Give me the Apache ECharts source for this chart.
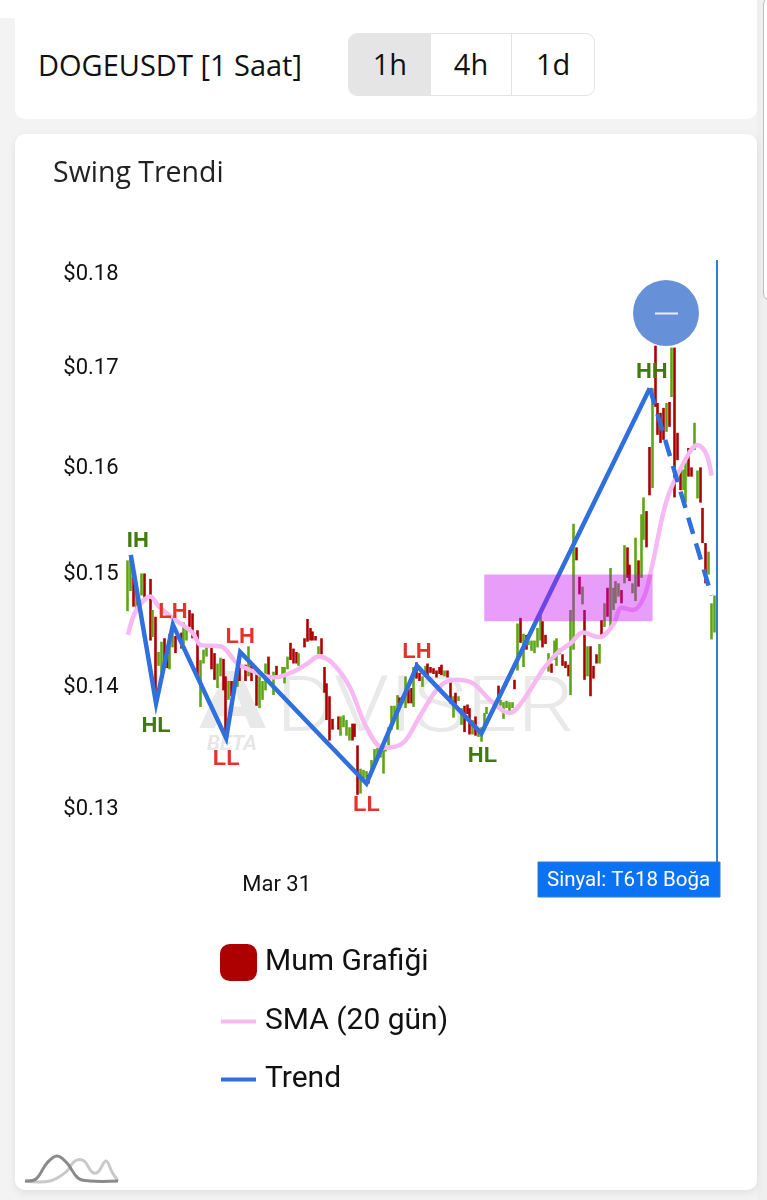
<!DOCTYPE html>
<html><head><meta charset="utf-8">
<script src="https://cdn.jsdelivr.net/npm/echarts@6/dist/echarts.min.js"></script>
<style>
html,body{margin:0;padding:0;width:767px;height:1200px;overflow:hidden;background:#f3f3f3;font-family:Roboto,sans-serif}
.top{position:absolute;left:0;top:0;width:767px;height:18px;background:#fff}
.strip{position:absolute;left:757px;top:0;width:10px;height:1200px;background:#efefef}
.pill{position:absolute;left:763px;top:-4px;width:20px;height:306px;box-sizing:border-box;background:#fff;border:1.5px solid #bdbdbd;border-radius:9px}
.card{position:absolute;left:15px;width:742px;background:#fff;border-radius:10px}
#c1{top:0;height:119px}
#c2{top:134px;height:1056px;box-shadow:0 3px 8px rgba(0,0,0,.08)}
#head{position:absolute;left:38px;top:45px;font:400 29px/40px "Open Sans",sans-serif;color:#111;white-space:nowrap}
#btns{position:absolute;left:348px;top:33px;width:247px;height:63px;box-sizing:border-box;border:1.5px solid #e4e4e4;border-radius:9px;display:flex;overflow:hidden}
#btns div{width:82px;text-align:center;font:400 29px/60px "Open Sans",sans-serif;color:#111;border-right:1.5px solid #e4e4e4;box-sizing:border-box}
#btns div:last-child{border-right:0}
#btns .on{background:#e5e5e5;border-right:0}
#main{position:absolute;left:0;top:0;width:767px;height:1200px}
</style></head><body>
<div class="top"></div><div class="strip"></div><div class="pill"></div>
<div class="card" id="c1"></div><div class="card" id="c2"></div>
<div id="head">DOGEUSDT [1 Saat]</div>
<div id="btns"><div class="on">1h</div><div>4h</div><div>1d</div></div>
<div id="main"></div>
<script>
const titleText='Swing Trendi';
const legendNames=['Mum Grafiği','SMA (20 gün)','Trend'];
const signalText='Sinyal: T618 Boğa';
const yTicks=[0.13,0.14,0.15,0.16,0.17,0.18];
const barCount=212;
const dateLabelIndex=53, dateLabel='Mar 31';
const signalIndex=210;

// [bar index, open, close, low, high]
const candles=[
[0,.1470,.1502,.1464,.1510],[1,.1487,.1508,.1482,.1513],[2,.1492,.1472,.1468,.1495],[3,.1468,.1485,.1464,.1489],
[5,.1482,.1495,.1478,.1498],[6,.1498,.1478,.1476,.1498],[8,.1492,.1450,.1438,.1493],[9,.1445,.1462,.1441,.1465],
[10,.1458,.1395,.1384,.1459],[11,.1417,.1426,.1416,.1428],[12,.1414,.1434,.1410,.1437],[13,.1438,.1420,.1416,.1440],
[14,.1423,.1416,.1414,.1424],[15,.1417,.1440,.1413,.1444],[16,.1435,.1447,.1432,.1449],[17,.1441,.1430,.1427,.1442],
[19,.1444,.1434,.1431,.1445],[20,.1438,.1452,.1435,.1454],[21,.1440,.1447,.1438,.1449],[22,.1464,.1452,.1450,.1465],
[23,.1461,.1443,.1440,.1462],[25,.1446,.1412,.1407,.1447],[26,.1385,.1416,.1381,.1421],[27,.1420,.1428,.1418,.1430],
[28,.1425,.1431,.1424,.1432],[30,.1434,.1416,.1413,.1435],[31,.1426,.1408,.1404,.1427],[32,.1400,.1415,.1397,.1418],
[33,.1410,.1420,.1407,.1423],[34,.1421,.1399,.1395,.1422],[35,.1406,.1365,.1358,.1407],[36,.1390,.1401,.1387,.1403],
[37,.1402,.1392,.1390,.1403],[39,.1399,.1403,.1398,.1404],[40,.1419,.1405,.1403,.1420],[42,.1416,.1405,.1403,.1417],
[43,.1410,.1430,.1407,.1433],[44,.1417,.1405,.1403,.1418],[46,.1409,.1386,.1382,.1410],[47,.1384,.1404,.1380,.1407],
[48,.1390,.1400,.1387,.1403],[49,.1398,.1415,.1395,.1418],[50,.1423,.1407,.1404,.1424],[52,.1394,.1408,.1391,.1411],
[53,.1415,.1408,.1407,.1416],[55,.1410,.1414,.1409,.1415],[56,.1403,.1412,.1401,.1415],[57,.1415,.1422,.1413,.1424],
[58,.1435,.1423,.1421,.1436],[59,.1430,.1420,.1418,.1431],[60,.1427,.1420,.1418,.1428],[61,.1418,.1425,.1416,.1427],
[63,.1439,.1433,.1432,.1440],[64,.1456,.1440,.1437,.1457],[65,.1448,.1440,.1438,.1449],[66,.1445,.1440,.1438,.1446],
[67,.1441,.1439,.1438,.1442],[68,.1427,.1431,.1426,.1433],[69,.1439,.1428,.1426,.1440],[70,.1414,.1397,.1393,.1415],
[71,.1400,.1375,.1370,.1401],[72,.1389,.1360,.1353,.1390],[73,.1370,.1364,.1362,.1371],[75,.1372,.1364,.1362,.1373],
[76,.1359,.1371,.1357,.1373],[77,.1365,.1373,.1364,.1374],[78,.1359,.1368,.1357,.1370],[79,.1355,.1362,.1353,.1364],
[80,.1366,.1356,.1353,.1367],[81,.1366,.1358,.1356,.1367],[82,.1348,.1320,.1309,.1349],[83,.1313,.1327,.1310,.1330],
[84,.1323,.1328,.1322,.1329],[85,.1323,.1327,.1322,.1328],[86,.1324,.1319,.1318,.1325],[87,.1328,.1335,.1327,.1337],
[88,.1336,.1345,.1334,.1346],[89,.1338,.1346,.1337,.1347],[90,.1341,.1345,.1339,.1346],[91,.1330,.1343,.1326,.1345],
[92,.1344,.1346,.1344,.1347],[93,.1351,.1362,.1349,.1364],[94,.1365,.1380,.1362,.1382],[95,.1372,.1381,.1370,.1382],
[96,.1366,.1388,.1362,.1391],[97,.1388,.1385,.1384,.1389],[98,.1385,.1389,.1384,.1390],[99,.1384,.1404,.1380,.1407],
[100,.1395,.1385,.1384,.1396],[101,.1396,.1386,.1384,.1397],[102,.1385,.1412,.1381,.1415],[103,.1418,.1407,.1405,.1419],
[104,.1409,.1404,.1403,.1410],[105,.1399,.1406,.1398,.1407],[106,.1409,.1415,.1409,.1416],[107,.1417,.1408,.1407,.1418],
[108,.1414,.1410,.1410,.1415],[109,.1413,.1409,.1409,.1414],[110,.1411,.1407,.1406,.1412],[111,.1414,.1410,.1409,.1415],
[112,.1416,.1409,.1408,.1417],[113,.1408,.1411,.1407,.1412],[114,.1411,.1406,.1406,.1412],[115,.1402,.1386,.1384,.1403],
[116,.1375,.1388,.1372,.1390],[117,.1392,.1384,.1382,.1393],[118,.1387,.1389,.1386,.1390],[119,.1368,.1378,.1366,.1380],
[120,.1381,.1363,.1360,.1382],[121,.1382,.1376,.1375,.1383],[122,.1379,.1360,.1358,.1380],[123,.1360,.1369,.1358,.1370],
[124,.1372,.1359,.1357,.1373],[125,.1358,.1361,.1356,.1362],[126,.1354,.1363,.1352,.1364],[127,.1364,.1374,.1362,.1376],
[128,.1376,.1380,.1375,.1381],[132,.1398,.1388,.1386,.1399],[133,.1383,.1386,.1382,.1387],[134,.1372,.1384,.1371,.1385],
[135,.1381,.1385,.1380,.1386],[136,.1377,.1384,.1375,.1385],[137,.1381,.1384,.1380,.1385],[138,.1403,.1397,.1396,.1404],
[139,.1416,.1450,.1412,.1453],[140,.1457,.1440,.1436,.1458],[141,.1418,.1440,.1415,.1444],[142,.1442,.1431,.1430,.1443],
[143,.1434,.1437,.1434,.1438],[144,.1430,.1437,.1429,.1438],[145,.1429,.1436,.1427,.1438],[146,.1435,.1447,.1432,.1449],
[147,.1441,.1462,.1438,.1465],[148,.1454,.1435,.1432,.1455],[149,.1442,.1436,.1435,.1443],[150,.1413,.1425,.1411,.1427],
[151,.1417,.1411,.1410,.1418],[152,.1424,.1436,.1421,.1438],[153,.1419,.1437,.1416,.1440],[154,.1427,.1430,.1426,.1431],
[155,.1425,.1418,.1416,.1426],[156,.1419,.1415,.1414,.1420],[157,.1416,.1408,.1407,.1417],[158,.1395,.1460,.1391,.1465],
[159,.1436,.1538,.1430,.1544],[160,.1521,.1512,.1510,.1522],[161,.1494,.1481,.1479,.1495],[162,.1472,.1484,.1470,.1486],
[163,.1464,.1410,.1404,.1465],[164,.1410,.1430,.1407,.1433],[165,.1432,.1395,.1390,.1433],[166,.1415,.1406,.1405,.1416],
[167,.1425,.1420,.1418,.1426],[168,.1421,.1433,.1418,.1435],[169,.1455,.1443,.1440,.1456],[170,.1453,.1469,.1450,.1471],
[171,.1484,.1462,.1459,.1485],[172,.1455,.1500,.1450,.1503],[173,.1468,.1482,.1465,.1485],[174,.1474,.1488,.1471,.1491],
[175,.1480,.1488,.1477,.1489],[176,.1482,.1473,.1471,.1483],[177,.1492,.1520,.1489,.1524],[178,.1521,.1497,.1494,.1522],
[179,.1505,.1492,.1491,.1506],[180,.1481,.1488,.1480,.1489],[181,.1476,.1528,.1473,.1531],[182,.1509,.1488,.1486,.1510],
[183,.1497,.1550,.1494,.1553],[184,.1532,.1565,.1529,.1569],[185,.1555,.1525,.1522,.1556],[186,.1617,.1575,.1571,.1618],
[187,.1582,.1672,.1578,.1677],[188,.1720,.1662,.1658,.1721],[189,.1661,.1633,.1630,.1662],[190,.1651,.1625,.1622,.1652],
[191,.1656,.1628,.1625,.1657],[192,.1636,.1660,.1633,.1662],[193,.1662,.1640,.1638,.1663],[194,.1672,.1715,.1668,.1719],
[195,.1718,.1580,.1569,.1719],[196,.1631,.1608,.1605,.1632],[197,.1596,.1580,.1576,.1597],[198,.1578,.1594,.1576,.1596],
[199,.1568,.1600,.1564,.1603],[200,.1616,.1592,.1589,.1617],[201,.1597,.1591,.1589,.1598],[202,.1618,.1640,.1615,.1642],
[203,.1572,.1593,.1568,.1595],[204,.1597,.1567,.1564,.1598],[205,.1558,.1530,.1526,.1559],[206,.1525,.1493,.1489,.1526],
[207,.1499,.1516,.1497,.1518],[208,.1443,.1468,.1439,.1471],[209,.1448,.1475,.1445,.1478]
];

const smaIndex=[0,3,8,11,17,23,26,33,39,45,52,59,64,68,73,79,85,91,98,104,111,117,123,129,136,141,148,153,158,162,168,173,176,180,184,187,192,198,203,206,208];
const smaPrice=[.1443,.1465,.1477,.1468,.1456,.1445,.1434,.1433,.1418,.1411,.1406,.1411,.1418,.1424,.1418,.1398,.1364,.1347,.1351,.1373,.1398,.1404,.1401,.1387,.1376,.1387,.1413,.1427,.1436,.1445,.1441,.1452,.1467,.1465,.1477,.1507,.1566,.1602,.1620,.1612,.1590];

const trendIndex=[1,10,16,35,40,85,103,126,186];
const trendPrice=[.1515,.1384,.1452,.1355,.1428,.1318,.1416,.1359,.1677];
const projectedIndex=[186,208];
const projectedPrice=[.1677,.1478];

const swingIndex=[1,10,16,35,40,85,103,126,186];
const swingPrice=[.1515,.1384,.1452,.1355,.1428,.1318,.1416,.1359,.1677];
const swingText=['IH','HL','LH','LL','LH','LL','LH','HL','HH'];
const swingSide=['top','bottom','top','bottom','top','bottom','top','bottom','top'];

const zoneIndex=[127,187];
const zonePrice=[.1497,.1455];

const swingNudge=[[7,5],[0,0],[0,6],[0,0],[0,3],[0,1],[0,5],[1,0],[2,2]];
const RED='#ad0000',GREEN='#5ea514',BLUE='#2f6fde',PINK='#f6b9f1';
const lineIcon='path://M0 0L0 0ZM0 15.5H35V19.5H0ZM35 35L35 35Z';
const categories=Array.from({length:barCount},()=>'');
categories[dateLabelIndex]=dateLabel;

const chart=echarts.init(document.getElementById('main'),null,{renderer:'canvas'});
const swingColors={HL:'#3f7a0c',HH:'#3f7a0c',IH:'#3f7a0c',LH:'#e3332b',LL:'#e3332b'};
chart.setOption({
 animation:false,
 backgroundColor:'transparent',
 title:{text:titleText,left:53,top:159,padding:0,textStyle:{fontFamily:'"Open Sans"',fontWeight:400,fontSize:28.5,color:'#222'}},
 grid:{left:126.6,width:594.7,top:260,height:602,containLabel:false},
 xAxis:{type:'category',data:categories,boundaryGap:true,
  axisLine:{show:false},axisTick:{show:false},splitLine:{show:false},
  axisLabel:{interval:0,margin:12,fontFamily:'Roboto',fontSize:22,color:'#111',hideOverlap:false}},
 yAxis:{type:'log',logBase:10,min:0.12565,max:0.18132,
  axisLine:{show:false},axisTick:{show:false},splitLine:{show:false},minorTick:{show:false},
  axisLabel:{customValues:yTicks,margin:8,verticalAlign:'top',lineHeight:6,fontFamily:'Roboto',fontSize:22,color:'#111',
   formatter:v=>{const p=v<0?Math.pow(10,v):v;return '$'+p.toFixed(2);}}},
 legend:{orient:'vertical',left:220,top:944,padding:0,itemWidth:35,itemHeight:35,itemGap:23,selectedMode:false,
  textStyle:{fontFamily:'Roboto',fontSize:30,color:'#111',padding:[0,0,0,4]},
  data:[{name:legendNames[0],icon:'roundRect',itemStyle:{color:RED,borderColor:RED}},
        {name:legendNames[1],icon:lineIcon,itemStyle:{color:PINK}},
        {name:legendNames[2],icon:lineIcon,itemStyle:{color:BLUE}}]},
 series:[
  {name:legendNames[0],type:'candlestick',z:2,barWidth:1,
   encode:{x:0,y:[1,2,3,4]},data:candles,
   itemStyle:{color:GREEN,color0:RED,borderColor:GREEN,borderColor0:RED,borderWidth:2.6}},
  {name:legendNames[1],type:'line',z:3,smooth:0.35,symbol:'none',
   data:smaIndex.map((k,i)=>[k,smaPrice[i]]),lineStyle:{color:PINK,width:4.5},itemStyle:{color:PINK}},
  {name:legendNames[2],type:'line',z:4,symbol:'none',
   data:trendIndex.map((k,i)=>[k,trendPrice[i]]),lineStyle:{color:BLUE,width:4.5,join:'miter'},itemStyle:{color:BLUE}},
  {name:'Projection',type:'line',z:4,symbol:'none',
   data:projectedIndex.map((k,i)=>[k,projectedPrice[i]]),lineStyle:{color:BLUE,width:4.5,type:[17,10]},
   markLine:{silent:true,symbol:'none',animation:false,label:{show:false},
    lineStyle:{color:'#2c7fd0',width:2,type:'solid'},data:[{xAxis:signalIndex}]}},
  {name:'Swing',type:'scatter',z:6,symbol:'circle',symbolSize:1,itemStyle:{color:'transparent',opacity:1},silent:true,
   data:swingIndex.map((k,i)=>({value:[k,swingPrice[i]],label:{show:true,formatter:swingText[i],position:swingSide[i],
     distance:swingSide[i]==='top'?7:(swingText[i]==='LL'?9:11),
     offset:swingNudge[i],
     fontFamily:'Liberation Sans',fontWeight:'bold',fontSize:22,color:swingColors[swingText[i]]}}))},
  {name:'Zone',type:'line',z:5,symbol:'none',data:[],
   markArea:{silent:true,z:5,animation:false,itemStyle:{color:'rgba(197,10,245,0.4)'},
    data:[[{xAxis:zoneIndex[0],yAxis:zonePrice[0]},{xAxis:zoneIndex[1],yAxis:zonePrice[1]}]]}}
 ],
 graphic:[
  {type:'text',z:-1,silent:true,x:199,y:668,scaleX:1.25,style:{text:'A',font:'700 80px Roboto',fill:'#e9e9e9'}},
  {type:'text',z:-1,silent:true,x:276,y:672,scaleX:1.15,style:{text:'DVISER',font:'300 78px Roboto',fill:'#e9e9e9'}},
  {type:'text',z:-1,silent:true,x:207,y:734,style:{text:'BETA',font:'italic 700 21px Roboto',fill:'#e6e6e6'}},
  {type:'circle',z:50,silent:true,shape:{cx:666,cy:313,r:33},style:{fill:'#6691d9'}},
  {type:'rect',z:51,silent:true,shape:{x:655,y:312.5,width:23,height:2},style:{fill:'#e8eefa'}},
  {type:'rect',z:52,silent:true,shape:{x:538,y:862,width:182,height:35},style:{fill:'#0a72f5',stroke:'#2c7fd0',lineWidth:1}},
  {type:'text',z:53,silent:true,x:547,y:870,style:{text:signalText,font:'400 20.5px Roboto',fill:'#fff'}},
  {type:'polyline',z:10,silent:true,shape:{smooth:0.4,points:[[25,1181],[50,1181],[66,1172],[75,1161],[84,1161],[92,1172],[98,1172],[106,1161],[112,1172],[118,1181]]},style:{fill:'none',stroke:'#c9c9c9',lineWidth:3}},
  {type:'polyline',z:11,silent:true,shape:{smooth:0.4,points:[[25,1181],[36,1179],[47,1163],[57,1156],[67,1163],[78,1178],[90,1181],[118,1181]]},style:{fill:'none',stroke:'#8a8a8a',lineWidth:3}}
 ]
});
</script>
</body></html>
